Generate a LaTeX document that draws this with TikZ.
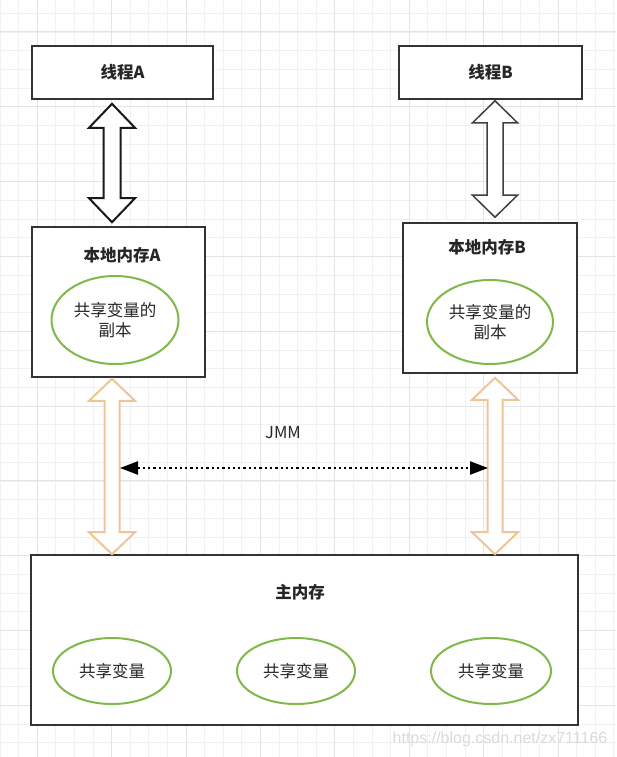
\documentclass[tikz,border=0pt]{standalone}
\usepackage{fontspec}
\setmainfont{Noto Sans CJK SC}
\usetikzlibrary{arrows.meta,calc,shapes.geometric}
\definecolor{boxline}{HTML}{333333}
\definecolor{gridminor}{HTML}{F1F1F1}
\definecolor{gridmajor}{HTML}{E4E4E4}
\definecolor{ellgreen}{RGB}{128,184,74}
\definecolor{orangeline}{RGB}{240,196,148}
\definecolor{wmark}{HTML}{DADADA}
\newcommand\dblarr[9]{%
  \draw[#1] let \p1=(#3), \p2=(#5) in
    ({#2pt},{\y1-#4pt}) -- ({#2pt+#7pt},{\y1-#4pt-#9pt}) -- ({#2pt+#8pt},{\y1-#4pt-#9pt})
    -- ({#2pt+#8pt},{\y2+#6pt+#9pt}) -- ({#2pt+#7pt},{\y2+#6pt+#9pt}) -- ({#2pt},{\y2+#6pt})
    -- ({#2pt-#7pt},{\y2+#6pt+#9pt}) -- ({#2pt-#8pt},{\y2+#6pt+#9pt})
    -- ({#2pt-#8pt},{\y1-#4pt-#9pt}) -- ({#2pt-#7pt},{\y1-#4pt-#9pt}) -- cycle;}
\begin{document}
\begin{tikzpicture}[x=1pt,y=-1pt,
  every node/.style={font=\fontsize{16.5}{20}\selectfont, text=black!85},
  box/.style={draw=boxline, line width=1.6pt, fill=white, inner sep=0pt},
  titletext/.style={font=\fontsize{16.5}{20}\selectfont\bfseries},
  ell/.style={draw=ellgreen, line width=2pt, ellipse, fill=white, inner sep=0pt, align=center},
  blackarr/.style={draw=black!90, line width=2pt, fill=white, line join=miter},
  grayarr/.style={draw=black!75, line width=1.5pt, fill=white, line join=miter},
  orangearr/.style={draw=orangeline, line width=2pt, fill=white, line join=miter},
  jmm/.style={draw=black, line width=2.3pt, dash pattern=on 2.3pt off 3pt, {Triangle[length=18pt,width=13pt]}-{Triangle[length=18pt,width=13pt]}},
  minorline/.style={draw=gridminor, line width=0.8pt},
  majorline/.style={draw=gridmajor, line width=1pt}]
\useasboundingbox (0,0) rectangle (616,757);
\fill[white] (0,0) rectangle (616,757);
% grid
\foreach \i in {0,...,33} {\draw[minorline] ({\i*18.6},0) -- ({\i*18.6},757);}
\foreach \i in {0,...,41} {\draw[minorline] (0,{13.4+\i*18.7}) -- (616,{13.4+\i*18.7});}
\foreach \i in {0,...,8} {\draw[majorline] ({37.2+\i*74.4-74.4},0) -- ({37.2+\i*74.4-74.4},757);}
\foreach \i in {0,...,9} {\draw[majorline] (0,{32+\i*74.8}) -- (616,{32+\i*74.8});}
% boxes
\node[box, minimum width=181pt, minimum height=53pt, titletext] (tA) at (122.5,72.5) {线程A};
\node[box, minimum width=183pt, minimum height=53pt, titletext] (tB) at (490.5,72.5) {线程B};
\node[box, minimum width=173pt, minimum height=150pt] (lA) at (118.5,302) {};
\node[box, minimum width=174pt, minimum height=150pt] (lB) at (490,298) {};
\node[box, minimum width=547pt, minimum height=170pt] (mm) at (304.5,640) {};
\node[titletext] (lAt) at (122,255) {本地内存A};
\node[titletext] (lBt) at (487,247) {本地内存B};
\node[titletext] (mmt) at (300,592) {主内存};
% ellipses
\node[ell, minimum width=127pt, minimum height=88pt] (eA) at (115,320) {共享变量的\\副本};
\node[ell, minimum width=126pt, minimum height=84pt] (eB) at (490,322) {共享变量的\\副本};
\node[ell, minimum width=118pt, minimum height=66pt] (v1) at (112,671) {共享变量};
\node[ell, minimum width=118pt, minimum height=66pt] (v2) at (296,671) {共享变量};
\node[ell, minimum width=120pt, minimum height=66pt] (v3) at (491,671) {共享变量};
% double arrows
\dblarr{blackarr}{112}{tA.south}{4}{lA.north}{4}{23}{8.5}{24}
\dblarr{grayarr}{495}{tB.south}{1}{lB.north}{5}{22.5}{8}{22}
\dblarr{orangearr}{112}{lA.south}{1}{mm.north}{0}{23}{7.5}{22}
\dblarr{orangearr}{495}{lB.south}{4}{mm.north}{0}{23}{7.5}{22}
% JMM
\coordinate (jL) at (120,468);
\coordinate (jR) at (488,468);
\draw[jmm] (jL) -- (jR);
\node (jt) at (283,433) {JMM};
% watermark
\node[text=wmark, font=\fontspec{Liberation Sans}\fontsize{16}{19}\selectfont] (wm) at (500,739) {https://blog.csdn.net/zx711166};
\end{tikzpicture}
\end{document}
